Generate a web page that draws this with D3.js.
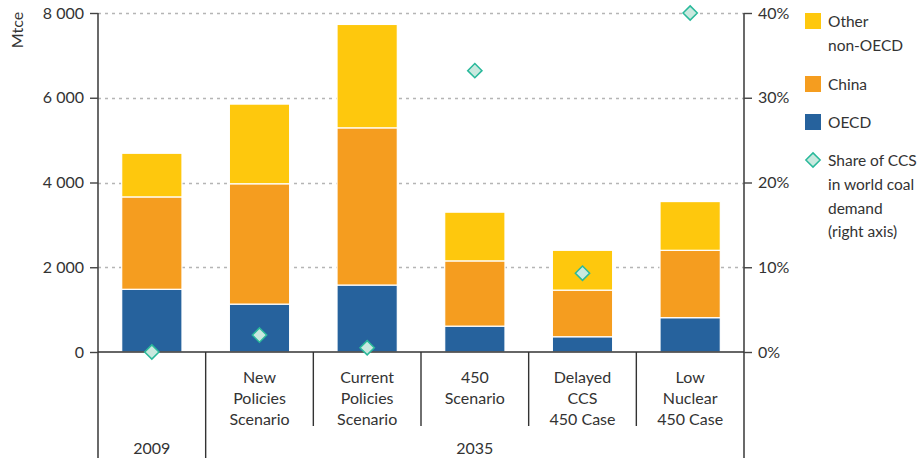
<!DOCTYPE html>
<html>
<head>
<meta charset="utf-8">
<script src="https://cdn.jsdelivr.net/npm/d3@7/dist/d3.min.js"></script>
<style>
  html, body { margin: 0; padding: 0; background: #fff; }
  svg { display: block; }
  text { font-family: Lato, "Open Sans", sans-serif; fill: #333; }
</style>
</head>
<body>
<svg id="chart" width="921" height="458"></svg>
<script>
// Coal demand by region (Mtce) and CCS share, 2009 vs 2035 scenarios
const categories = ["2009", "New Policies Scenario", "Current Policies Scenario", "450 Scenario", "Delayed CCS 450 Case", "Low Nuclear 450 Case"];
const categoryLines = [[], ["New", "Policies", "Scenario"], ["Current", "Policies", "Scenario"], ["450", "Scenario"], ["Delayed", "CCS", "450 Case"], ["Low", "Nuclear", "450 Case"]];
const oecd = [1480, 1130, 1580, 610, 360, 810];
const china = [2180, 2840, 3710, 1540, 1100, 1590];
const otherNonOecd = [1030, 1880, 2440, 1150, 940, 1150];
const ccsShare = [0, 2.0, 0.5, 33.2, 9.3, 40];
const leftTicks = [0, 2000, 4000, 6000, 8000];
const rightTicks = [0, 10, 20, 30, 40];
const seriesNames = ["OECD", "China", "Other non-OECD"];
const seriesColors = ["#26629d", "#f59d1f", "#fec80d"];

const svg = d3.select("#chart");
const x0 = 98, x1 = 744, yTop = 13, yBase = 352;
const fs = "16px";

const x = d3.scaleBand().domain(categories).range([x0, x1]).paddingInner(0.44).paddingOuter(0.22);
const band = d3.scaleBand().domain(categories).range([x0, x1]);
const y = d3.scaleLinear().domain([0, 8000]).range([yBase, yTop]);
const y2 = d3.scaleLinear().domain([0, 40]).range([yBase, yTop]);

// gridlines
svg.append("g").selectAll("line").data(leftTicks.filter(d => d > 0)).join("line")
  .attr("x1", x0).attr("x2", x1)
  .attr("y1", d => Math.round(y(d)) + 0.5).attr("y2", d => Math.round(y(d)) + 0.5)
  .attr("stroke", "#b5b5b5").attr("stroke-width", 1.3).attr("stroke-dasharray", "3,4");

// stacked bars
const rows = categories.map((c, i) => ({ cat: c, OECD: oecd[i], China: china[i], "Other non-OECD": otherNonOecd[i] }));
const stacked = d3.stack().keys(seriesNames)(rows);
svg.append("g").selectAll("g").data(stacked).join("g")
  .attr("fill", (d, i) => seriesColors[i])
  .selectAll("rect").data(d => d).join("rect")
  .attr("x", d => x(d.data.cat))
  .attr("width", x.bandwidth())
  .attr("y", d => y(d[1]))
  .attr("height", d => y(d[0]) - y(d[1]))
  .attr("stroke", "#fff").attr("stroke-width", 1.2);

// left axis
const leftAxis = d3.axisLeft(y).tickValues(leftTicks).tickSize(8).tickPadding(6)
  .tickFormat(d => d3.format(",")(d).replace(/,/g, " "));
const gl = svg.append("g").attr("transform", `translate(${x0},0)`).call(leftAxis);
gl.select(".domain").remove();
gl.selectAll(".tick line").attr("stroke", "#444").attr("stroke-width", 1.4);
gl.selectAll(".tick text").style("font-size", fs).attr("fill", "#333");
svg.append("line").attr("x1", x0).attr("x2", x0).attr("y1", yTop).attr("y2", 458)
  .attr("stroke", "#444").attr("stroke-width", 1.6);

// right axis
const rightAxis = d3.axisRight(y2).tickValues(rightTicks).tickSize(8).tickPadding(6).tickFormat(d => d + "%");
const gr = svg.append("g").attr("transform", `translate(${x1},0)`).call(rightAxis);
gr.select(".domain").remove();
gr.selectAll(".tick line").attr("stroke", "#444").attr("stroke-width", 1.4);
gr.selectAll(".tick text").style("font-size", fs).attr("fill", "#333");
svg.append("line").attr("x1", x1).attr("x2", x1).attr("y1", yTop).attr("y2", 458)
  .attr("stroke", "#444").attr("stroke-width", 1.6);

// baseline
svg.append("line").attr("x1", x0).attr("x2", x1).attr("y1", yBase).attr("y2", yBase)
  .attr("stroke", "#333").attr("stroke-width", 1.6);

// category separators
categories.slice(1).forEach((c, i) => {
  const bx = band(c);
  svg.append("line").attr("x1", bx).attr("x2", bx).attr("y1", yBase)
    .attr("y2", i === 0 ? 458 : 426).attr("stroke", "#333").attr("stroke-width", 1.4);
});

// category labels
categories.forEach((c, i) => {
  const t = svg.append("text").attr("text-anchor", "middle").style("font-size", fs)
    .attr("x", band(c) + band.bandwidth() / 2);
  categoryLines[i].forEach((ln, j) => {
    t.append("tspan").attr("x", band(c) + band.bandwidth() / 2).attr("y", 383 + j * 21).text(ln);
  });
});
svg.append("text").attr("text-anchor", "middle").style("font-size", fs)
  .attr("x", band(categories[0]) + band.bandwidth() / 2).attr("y", 454).text("2009");
svg.append("text").attr("text-anchor", "middle").style("font-size", fs)
  .attr("x", (band(categories[1]) + x1) / 2).attr("y", 454).text("2035");

// axis title
svg.append("text").attr("transform", "translate(23,30) rotate(-90)").attr("text-anchor", "middle")
  .style("font-size", "16px").text("Mtce");

// CCS share markers
const diamond = d3.symbol().type(d3.symbolDiamond2).size(130);
svg.append("g").selectAll("path").data(ccsShare).join("path")
  .attr("d", diamond)
  .attr("transform", (d, i) => `translate(${band(categories[i]) + band.bandwidth() / 2},${y2(d)})`)
  .attr("fill", "#c9e9df").attr("stroke", "#2ab99b").attr("stroke-width", 1.5);

// legend
const lg = svg.append("g").attr("transform", "translate(805,0)");
const legendItems = [
  { color: seriesColors[2], lines: ["Other", "non-OECD"], y: 13 },
  { color: seriesColors[1], lines: ["China"], y: 76 },
  { color: seriesColors[0], lines: ["OECD"], y: 114 }
];
legendItems.forEach(it => {
  lg.append("rect").attr("x", 0).attr("y", it.y).attr("width", 16).attr("height", 16).attr("fill", it.color);
  it.lines.forEach((ln, j) => {
    lg.append("text").attr("x", 23).attr("y", it.y + 14 + j * 23.5).style("font-size", "15.5px").text(ln);
  });
});
lg.append("path").attr("d", diamond).attr("transform", "translate(8,160)")
  .attr("fill", "#c9e9df").attr("stroke", "#2ab99b").attr("stroke-width", 1.5);
["Share of CCS", "in world coal", "demand", "(right axis)"].forEach((ln, j) => {
  lg.append("text").attr("x", 23).attr("y", 166 + j * 23.8).style("font-size", "15.5px").text(ln);
});
</script>
</body>
</html>
